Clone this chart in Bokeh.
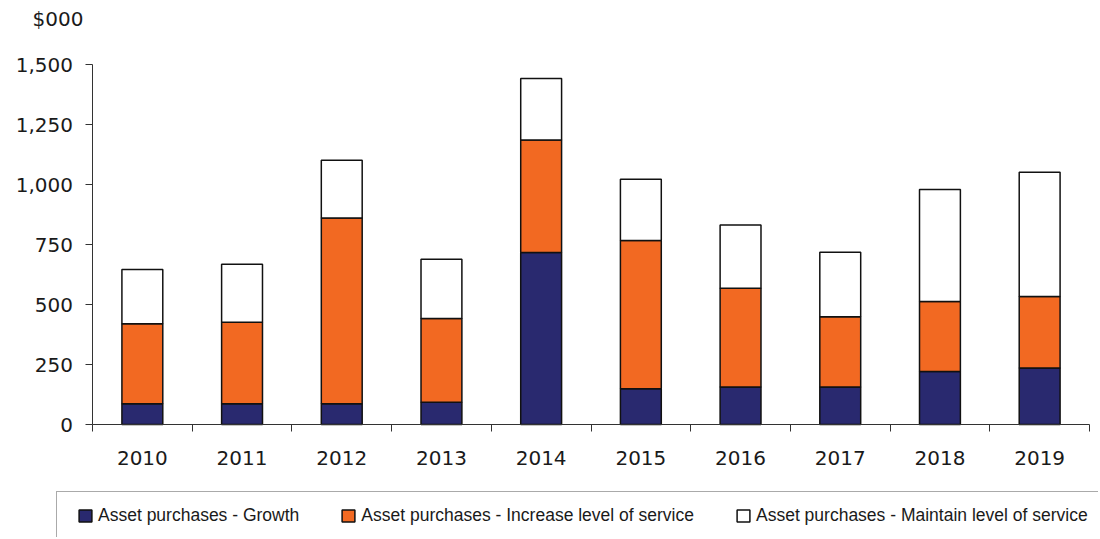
from bokeh.plotting import figure
from bokeh.models import FixedTicker, Legend, LegendItem, Range1d, ColumnDataSource
from bokeh.core.properties import value
from bokeh.embed import file_html
from bokeh.resources import INLINE

years = ["2010", "2011", "2012", "2013", "2014", "2015", "2016", "2017", "2018", "2019"]
growth = [86, 86, 86, 93, 717, 149, 156, 156, 221, 235]
increase = [334, 340, 774, 349, 468, 618, 412, 293, 291, 298]
maintain = [226, 242, 241, 247, 257, 255, 263, 269, 467, 518]
y_ticks = [0, 250, 500, 750, 1000, 1250, 1500]
y_tick_labels = ["{:,}".format(v) for v in y_ticks]
unit_label = "$000"
series_names = ["Asset purchases - Growth",
                "Asset purchases - Increase level of service",
                "Asset purchases - Maintain level of service"]
colors = ["#29296F", "#F26922", "#FFFFFF"]

W, H = 1098, 537
# frame covers the whole canvas; axes are pinned at data 0 (x) and 0 (y)
X0_PX, X_PX_PER_CAT = 92.0, 99.7
Y0_PX, Y_PX_PER_UNIT = 424.0, 0.24

xpos = [i + 0.5 for i in range(len(years))]
src = ColumnDataSource(dict(x=xpos, growth=growth, increase=increase, maintain=maintain))

p = figure(width=W, height=H, output_backend="svg", toolbar_location=None,
           title_location=None, x_axis_location="above", y_axis_location="right",
           x_range=Range1d(-X0_PX / X_PX_PER_CAT, (W - X0_PX) / X_PX_PER_CAT),
           y_range=Range1d(-(H - Y0_PX) / Y_PX_PER_UNIT, Y0_PX / Y_PX_PER_UNIT))
p.min_border = 0
p.min_border_left = 0
p.min_border_right = 0
p.min_border_top = 0
p.min_border_bottom = 0
p.outline_line_color = None
p.grid.visible = False
p.background_fill_color = "white"
p.border_fill_color = "white"

rs = p.vbar_stack(["growth", "increase", "maintain"], x="x", width=0.41, source=src,
                  fill_color=colors, line_color="#111111", line_width=1.5)

FONT = "DejaVu Sans"
AX = "#333333"
TXT = "#1a1a1a"

# y axis (line + ticks), pinned at x = 0; tick marks drawn as (label-less) minor ticks
ya = p.yaxis[0]
ya.fixed_location = 0
ya.bounds = (0, 1500)
ya.ticker = FixedTicker(ticks=[], minor_ticks=y_ticks)
ya.major_label_standoff = 0
ya.major_tick_in = 0
ya.major_tick_out = 0
ya.minor_tick_in = 7
ya.minor_tick_out = 0
ya.axis_line_color = AX
ya.minor_tick_line_color = AX

# x axis (line + category boundary ticks), pinned at y = 0
xa = p.xaxis[0]
xa.fixed_location = 0
xa.bounds = (0, len(years))
xa.ticker = FixedTicker(ticks=[], minor_ticks=list(range(len(years) + 1)))
xa.major_label_standoff = 0
xa.major_tick_in = 0
xa.major_tick_out = 0
xa.minor_tick_in = 7
xa.minor_tick_out = 0
xa.axis_line_color = AX
xa.minor_tick_line_color = AX

# tick labels
p.text(x=xpos, y=[0] * len(years), text=years, y_offset=33.5,
       text_align="center", text_baseline="middle",
       text_font=value(FONT), text_font_size="20px", text_color=TXT)
p.text(x=[0] * len(y_ticks), y=y_ticks, text=y_tick_labels, x_offset=-19.5,
       text_align="right", text_baseline="middle",
       text_font=value(FONT), text_font_size="20px", text_color=TXT)
p.text(x=[0], y=[y_ticks[-1]], text=[unit_label], x_offset=-9, y_offset=-46,
       text_align="right", text_baseline="middle",
       text_font=value(FONT), text_font_size="20px", text_color=TXT)

legend = Legend(items=[LegendItem(label=n, renderers=[r]) for n, r in zip(series_names, rs)],
                orientation="horizontal", location=(56, -3))
legend.title = " "
legend.title_location = "left"
legend.title_text_font_size = "1px"
legend.title_standoff = 6
legend.label_text_font = "Liberation Sans"
legend.label_text_font_size = "17.5px"
legend.label_text_color = TXT
legend.glyph_width = 16
legend.glyph_height = 15
legend.label_standoff = 5
legend.spacing = 41
legend.padding = 13
legend.margin = 0
legend.border_line_color = "#555555"
legend.border_line_width = 1
legend.background_fill_alpha = 1
p.add_layout(legend, "center")

open("out.html", "w").write(file_html(p, INLINE))
